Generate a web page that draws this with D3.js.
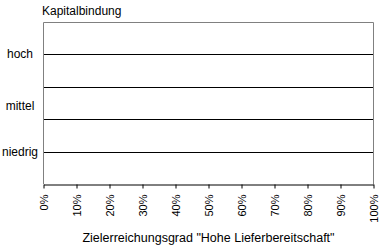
<!DOCTYPE html>
<html>
<head>
<meta charset="utf-8">
<script src="https://cdn.jsdelivr.net/npm/d3@7"></script>
<style>
  html, body { margin: 0; padding: 0; background: #fff; }
  svg { display: block; }
  text { font-family: "Liberation Sans", Arial, sans-serif; fill: #000; }
</style>
</head>
<body>
<div id="chart"></div>
<script>
// ---- data ----
const categories = ["hoch", "mittel", "niedrig"];
const categoryLevels = [4, 2.4, 1];          // position of each category label on the level scale
const levelLines = [4, 3, 2, 1];             // horizontal reference lines
const xTicks = [0, 0.1, 0.2, 0.3, 0.4, 0.5, 0.6, 0.7, 0.8, 0.9, 1.0];
const yTitle = "Kapitalbindung";
const xTitle = "Zielerreichungsgrad \"Hohe Lieferbereitschaft\"";

// ---- layout ----
const W = 379, H = 246;
const plot = { left: 43, right: 373, top: 22, bottom: 184 };

const svg = d3.select("#chart").append("svg")
  .attr("width", W).attr("height", H);

const x = d3.scaleLinear().domain([0, 1]).range([plot.left + 0.5, plot.right + 0.5]);
const y = d3.scaleLinear().domain([0, 5]).range([plot.bottom, plot.top]);
const crisp = v => Math.round(v) + 0.5;

// frame (top, left, right) in grey
svg.append("path")
  .attr("d", `M${plot.left + 0.5},${plot.bottom}V${plot.top + 0.5}H${plot.right + 0.5}V${plot.bottom}`)
  .attr("fill", "none").attr("stroke", "#808080").attr("stroke-width", 1);

// horizontal level lines
svg.append("g").selectAll("line").data(levelLines).join("line")
  .attr("x1", plot.left + 1).attr("x2", plot.right)
  .attr("y1", d => crisp(y(d))).attr("y2", d => crisp(y(d)))
  .attr("stroke", "#000").attr("stroke-width", 1);

// x axis
const xAxis = d3.axisBottom(x).tickValues(xTicks).tickFormat(d3.format(".0%"))
  .tickSize(4).tickSizeOuter(0);
const gx = svg.append("g").attr("transform", `translate(0,${plot.bottom + 0.5})`).call(xAxis);
gx.select(".domain").attr("stroke", "#000");
gx.selectAll(".tick line").attr("stroke", "#000");
gx.selectAll(".tick text")
  .attr("font-family", "'Liberation Sans', Arial, sans-serif")
  .attr("font-size", 11)
  .attr("fill", "#000")
  .attr("text-anchor", "end")
  .attr("transform", "rotate(-90)")
  .attr("x", -10).attr("y", 0).attr("dy", "0.36em");

// category labels
svg.append("g").selectAll("text").data(categories).join("text")
  .attr("x", 20)
  .attr("y", (d, i) => y(categoryLevels[i]))
  .attr("dy", "0.33em")
  .attr("text-anchor", "middle")
  .attr("font-size", 12)
  .text(d => d);

// titles
svg.append("text").attr("x", 42).attr("y", 15)
  .attr("font-size", 12).text(yTitle);
svg.append("text").attr("x", (plot.left + plot.right) / 2 + 0.5).attr("y", 242)
  .attr("text-anchor", "middle").attr("font-size", 12.5).text(xTitle);
</script>
</body>
</html>
